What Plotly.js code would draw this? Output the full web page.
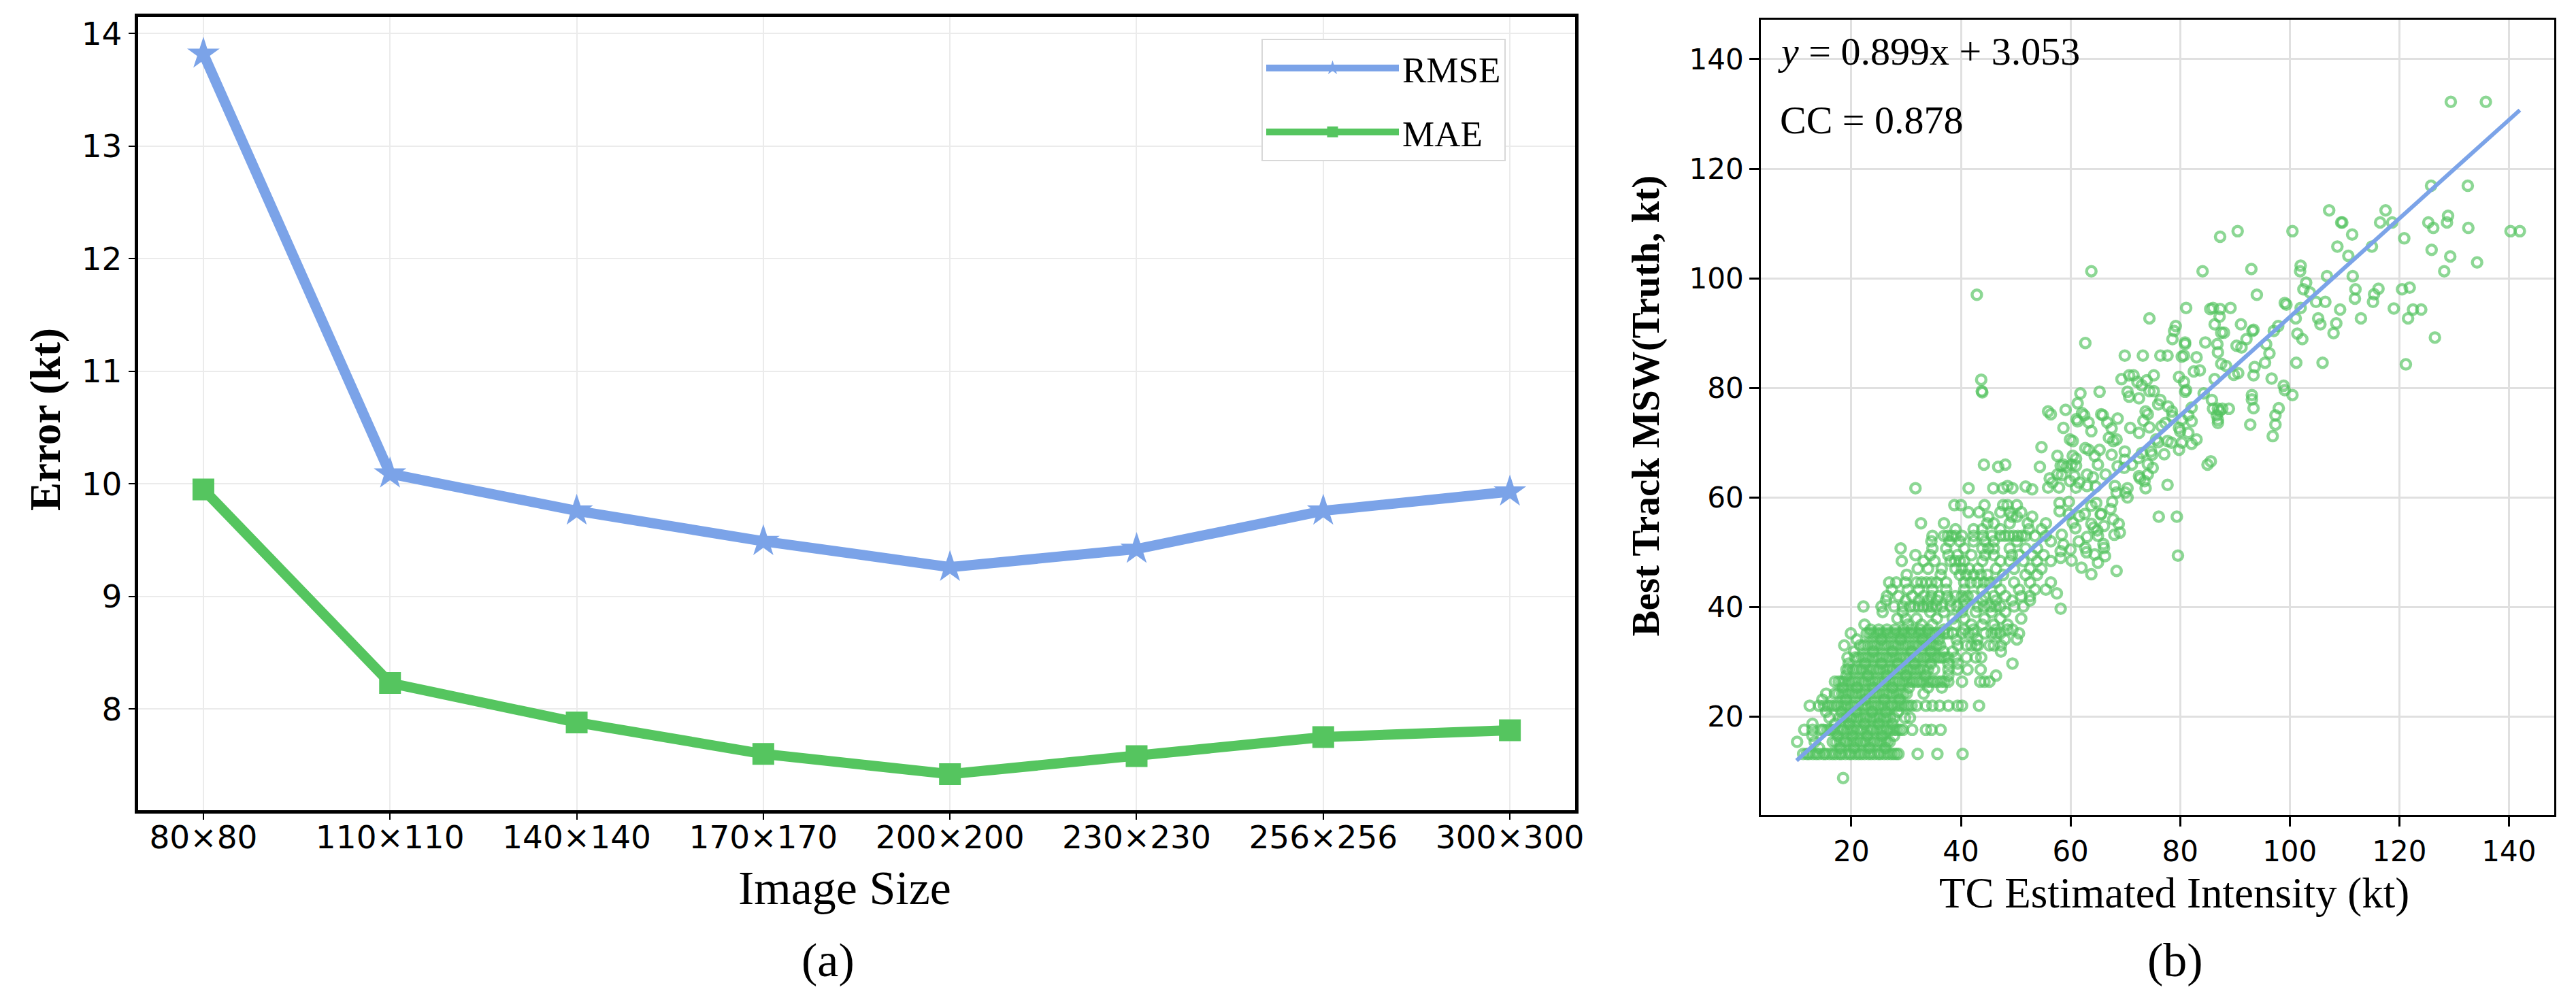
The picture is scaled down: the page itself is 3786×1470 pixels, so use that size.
<!DOCTYPE html>
<html>
<head>
<meta charset="utf-8">
<script src="https://cdn.plot.ly/plotly-3.0.1.min.js"></script>
<style>
  body { margin: 0; background: white; }
  #chart { width: 3786px; height: 1470px; }
</style>
</head>
<body>
<div id="chart"></div>
<script>
// (a) error vs. image size
const imageSizes = ['80×80', '110×110', '140×140', '170×170', '200×200', '230×230', '256×256', '300×300'];
const rmse = [13.82, 10.09, 9.76, 9.49, 9.26, 9.42, 9.76, 9.93];
const mae = [9.95, 8.23, 7.88, 7.60, 7.42, 7.58, 7.75, 7.81];

// (b) estimated vs. best track intensity
// dense part: best-track level (kt) and the estimates read along that level
const rowLevels = [8.8, 13.2, 14.3, 15.4, 16.5, 17.6, 18.7, 19.8, 20.9, 22.0, 23.1, 24.2, 25.3, 26.4, 27.5,
    28.6, 29.7, 30.8, 31.9, 33.0, 34.1, 35.2, 35.9, 36.8, 37.9, 39.1, 40.1, 41.2, 42.0, 43.2, 44.5,
    45.9, 47.0, 48.4, 49.5, 50.7, 52.0, 53.0, 54.2, 55.3, 56.5, 57.3, 58.6];
const rowEstimates = [
    [18.5],
    [11.2, 11.9, 12.3, 13.0, 13.6, 14.1, 14.9, 15.3, 16.0, 16.6, 17.1, 17.8, 18.2, 18.9, 19.6, 20.0, 20.7, 21.3, 21.8, 22.4, 23.1, 23.6, 24.2, 24.9, 25.3, 26.0, 26.6, 27.2, 27.7, 28.2, 28.6, 32.1, 35.7, 40.3],
    [14.1, 18.0, 20.5, 23.3, 26.2],
    [10.1, 13.3, 16.6, 17.2, 17.9, 18.6, 19.1, 19.8, 20.4, 21.0, 21.7, 22.3, 22.8, 23.5, 24.1, 24.8, 25.4, 26.0, 26.5, 27.0],
    [12.9, 17.5, 20.2, 22.9, 25.6, 27.8],
    [11.4, 12.9, 14.5, 14.9, 15.6, 16.2, 16.8, 17.5, 18.1, 18.6, 19.3, 19.9, 20.4, 21.1, 21.7, 22.2, 22.9, 23.5, 24.0, 24.7, 25.3, 25.8, 26.5, 27.1, 27.7, 28.3, 28.9, 29.4, 31.1, 33.6, 34.6, 36.3],
    [12.9, 17.0, 19.6, 22.4, 25.0, 27.5],
    [16.0, 17.8, 18.5, 19.1, 19.8, 20.3, 21.0, 21.6, 22.3, 22.8, 23.5, 24.1, 24.7, 25.2, 25.9, 26.5, 27.1, 27.8, 29.8, 30.7],
    [15.4, 18.2, 20.9, 23.8, 26.3, 28.5],
    [12.4, 14.1, 15.0, 15.7, 16.3, 17.0, 17.5, 18.2, 18.8, 19.3, 20.0, 20.6, 21.2, 21.9, 22.5, 23.0, 23.7, 24.3, 24.9, 25.5, 26.0, 26.7, 27.3, 27.9, 28.5, 29.1, 29.8, 30.4, 31.0, 31.9, 33.6, 34.8, 36.1, 37.7, 39.4, 40.2, 43.3],
    [14.7, 19.0, 22.5, 26.0, 28.8],
    [15.4, 17.0, 17.6, 18.3, 18.9, 19.5, 20.2, 20.8, 21.4, 22.0, 22.6, 23.3, 23.9, 24.5, 25.1, 25.8, 26.4, 27.0, 27.6, 28.3, 28.9, 29.5, 30.1, 33.2],
    [18.5, 21.0, 24.0, 27.5, 30.5, 34.0, 36.5],
    [17.0, 17.7, 18.3, 18.8, 19.5, 20.1, 20.7, 21.3, 22.0, 22.5, 23.2, 23.8, 24.4, 25.0, 25.7, 26.2, 26.9, 27.5, 28.1, 28.7, 29.4, 30.0, 30.6, 31.2, 31.9, 32.5, 33.1, 33.8, 34.4, 35.0, 35.7, 36.4, 37.0, 37.7, 40.2, 43.5, 44.3, 45.2],
    [19.1, 23.0, 26.5, 30.0, 33.5, 37.7, 46.4],
    [19.1, 19.5, 20.3, 20.9, 21.6, 22.1, 22.8, 23.4, 24.0, 24.7, 25.2, 25.9, 26.5, 27.1, 27.6, 28.3, 28.9, 29.5, 30.2, 30.8, 31.4, 32.0, 32.6, 33.2, 34.0, 35.1, 37.7, 39.4, 41.2, 43.6],
    [19.5, 22.5, 25.5, 28.5, 31.5, 34.5, 37.7, 39.4, 49.4],
    [19.3, 20.7, 21.3, 22.0, 22.6, 23.2, 23.9, 24.5, 25.1, 25.7, 26.4, 27.0, 27.6, 28.2, 28.9, 29.5, 30.1, 30.7, 31.4, 32.0, 32.6, 33.3, 33.9, 34.5, 35.1, 35.8, 36.4, 37.0, 37.7, 39.0, 41.0, 42.7, 43.7],
    [20.5, 24.0, 27.5, 31.0, 34.5, 36.8, 38.5, 47.3],
    [18.7, 21.6, 22.3, 22.9, 23.6, 24.2, 24.8, 25.5, 26.1, 26.7, 27.4, 28.0, 28.6, 29.3, 29.9, 30.5, 31.2, 31.8, 32.4, 33.1, 33.7, 34.3, 35.0, 35.6, 36.2, 39.4, 41.0, 41.9, 42.8, 43.1, 45.2, 46.0, 47.3],
    [21.0, 25.5, 29.0, 33.0, 36.0, 39.2, 43.0, 48.0, 50.2],
    [19.9, 22.8, 23.4, 24.0, 24.7, 25.3, 25.9, 26.6, 27.2, 27.8, 28.5, 29.1, 29.7, 30.4, 31.0, 31.6, 32.3, 32.9, 33.5, 34.2, 34.8, 35.4, 36.1, 36.9, 37.6, 38.5, 40.2, 41.4, 42.3, 44.4, 45.6, 46.4, 47.2, 50.6],
    [23.5, 25.0, 26.5, 28.0, 29.5, 31.0, 32.5, 34.0, 36.9, 40.6, 42.3, 46.4, 48.5, 49.4],
    [22.4, 30.3, 32.8, 34.8, 38.9, 41.9, 43.9, 46.0, 48.5],
    [28.4, 29.9, 31.9, 35.6, 38.5, 40.6, 44.3, 47.2, 51.0],
    [25.7, 29.4, 34.4, 36.9, 40.2, 42.7, 45.6, 48.1],
    [22.2, 25.5, 27.8, 29.4, 30.7, 31.5, 32.3, 33.1, 33.9, 34.7, 35.5, 36.5, 38.1, 39.3, 40.5, 43.1, 44.2, 45.3, 46.3, 47.2, 49.7, 51.4],
    [26.3, 29.9, 32.3, 34.0, 35.6, 38.1, 40.6, 43.9, 46.4, 49.3, 52.6],
    [26.5, 28.6, 31.1, 33.2, 34.6, 36.0, 37.5, 39.0, 40.2, 41.2, 42.3, 44.4, 46.0, 48.1, 51.0, 52.6],
    [27.4, 30.3, 32.3, 34.8, 37.3, 40.6, 43.9, 47.2, 50.6, 53.5, 55.5],
    [26.9, 28.2, 29.9, 31.9, 32.8, 33.7, 34.6, 35.6, 37.3, 40.6, 41.8, 43.0, 44.2, 45.3, 46.4, 49.7, 52.6, 56.4],
    [30.1, 36.3, 39.8, 41.0, 42.3, 43.6, 44.8, 47.7, 51.8, 53.9],
    [32.1, 34.0, 36.5, 39.0, 40.2, 41.5, 43.1, 46.4, 49.7, 52.6, 54.7],
    [29.2, 33.2, 35.2, 38.1, 38.9, 39.8, 40.6, 43.9, 47.2, 48.9, 51.4, 53.9, 56.4],
    [31.7, 34.4, 37.7, 39.4, 41.9, 44.4, 46.0, 49.3, 50.6, 53.0, 55.1],
    [29.0, 34.8, 37.3, 40.6, 43.9, 45.0, 46.0, 48.9, 51.8, 53.9],
    [34.6, 37.9, 39.8, 42.3, 44.4, 46.0, 50.2, 56.4],
    [34.8, 36.9, 37.6, 38.3, 39.0, 40.2, 42.3, 44.0, 45.6, 47.2, 48.0, 48.8, 49.6, 50.4, 51.1, 51.8, 53.5, 55.5],
    [39.0, 42.3, 43.9, 47.2, 52.4, 54.7],
    [32.7, 36.9, 44.8, 46.0, 48.9, 52.2, 55.5],
    [45.0, 49.3, 50.2, 53.0],
    [41.4, 43.3, 47.2, 48.9, 51.0],
    [38.8, 40.0, 44.3, 47.7, 48.5, 50.2]
];
// sparse part: [estimate, best track]
const spreadPoints = [
    [129.4, 132.2], [135.8, 132.2], [125.8, 116.9], [132.5, 116.9], [107.2, 112.4], [117.5, 112.4],
    [109.4, 110.2], [109.6, 110.2], [116.5, 110.2], [118.7, 110.2], [125.3, 110.2], [128.9, 111.4],
    [128.7, 110.2], [126.2, 109.2], [132.6, 109.2], [140.3, 108.6], [142.0, 108.6], [90.5, 108.6],
    [87.3, 107.6], [100.5, 108.6], [111.4, 108.0], [120.9, 107.3], [108.7, 105.8], [115.0, 105.8],
    [110.7, 104.1], [125.9, 105.2], [129.3, 104.0], [134.2, 102.9], [128.2, 101.3], [63.8, 101.3],
    [84.1, 101.3], [93.0, 101.7], [102.0, 102.3], [101.9, 101.3], [106.8, 100.4], [111.5, 100.4],
    [42.9, 97.0], [103.0, 99.2], [102.5, 98.0], [112.0, 98.0], [116.2, 98.1], [120.5, 98.0],
    [121.9, 98.3], [94.0, 97.0], [103.7, 97.4], [111.9, 96.3], [115.4, 97.1], [99.1, 95.5],
    [99.4, 95.2], [104.8, 95.7], [106.5, 95.7], [102.0, 94.6], [81.1, 94.6], [85.5, 94.4],
    [86.0, 94.6], [87.3, 94.4], [89.2, 94.6], [109.2, 94.3], [115.2, 95.7], [119.0, 94.5],
    [122.5, 94.3], [124.0, 94.3], [74.4, 92.7], [87.2, 93.0], [101.1, 92.7], [105.2, 92.7],
    [113.0, 92.7], [121.6, 92.7], [91.1, 91.6], [97.9, 91.3], [105.6, 91.6], [108.5, 91.8],
    [93.2, 90.4], [93.4, 90.6], [79.2, 91.3], [78.9, 90.4], [86.3, 91.6], [87.5, 90.1],
    [88.0, 90.1], [97.1, 90.4], [101.4, 89.9], [108.0, 90.0], [126.5, 89.2], [92.1, 88.9],
    [102.3, 88.9], [78.6, 88.9], [84.6, 88.3], [80.9, 88.3], [80.9, 88.0], [62.7, 88.2],
    [86.8, 88.0], [95.7, 88.0], [90.3, 87.7], [91.2, 87.4], [96.3, 86.3], [86.9, 86.5],
    [69.9, 85.9], [73.2, 85.9], [76.4, 85.9], [77.7, 85.9], [80.3, 85.7], [80.7, 85.9],
    [83.0, 85.6], [101.2, 84.6], [106.0, 84.6], [121.2, 84.3], [95.5, 84.6], [93.6, 83.8],
    [87.5, 84.4], [88.4, 84.0], [82.5, 83.0], [83.6, 83.2], [90.6, 82.7], [89.8, 82.4],
    [75.2, 82.3], [70.7, 82.3], [71.5, 82.3], [69.3, 81.6], [73.9, 81.4], [79.8, 82.0],
    [72.2, 81.1], [73.0, 80.5], [93.4, 82.3], [86.3, 81.6], [80.7, 81.1], [96.7, 81.7],
    [98.9, 80.4], [99.1, 79.6], [100.5, 78.7], [43.7, 81.5], [43.8, 79.4], [43.9, 79.2],
    [61.8, 79.0], [65.3, 79.3], [70.4, 79.3], [74.4, 79.4], [75.2, 79.4], [80.9, 79.3],
    [81.1, 79.6], [84.3, 79.0], [70.7, 78.4], [72.5, 78.1], [76.4, 77.8], [93.1, 78.7],
    [93.1, 77.9], [85.8, 77.8], [61.3, 77.2], [76.0, 77.0], [77.8, 76.6], [82.1, 76.4],
    [86.0, 76.2], [86.9, 76.2], [87.7, 76.2], [88.9, 76.2], [93.4, 76.3], [98.0, 76.3],
    [55.9, 75.7], [56.4, 75.2], [59.1, 76.0], [62.1, 75.4], [62.5, 75.0], [65.6, 75.2],
    [65.9, 75.0], [73.7, 75.7], [74.1, 75.2], [78.5, 75.7], [78.6, 74.8], [81.5, 75.0],
    [86.7, 75.0], [87.2, 75.8], [97.4, 75.0], [61.1, 74.3], [61.3, 73.9], [68.6, 74.4],
    [73.3, 74.0], [82.1, 73.9], [80.3, 74.2], [86.9, 73.6], [86.9, 74.2], [63.3, 73.7],
    [66.7, 73.7], [97.4, 73.3], [77.3, 73.6], [76.6, 73.0], [92.8, 73.3], [58.7, 72.7],
    [67.5, 72.6], [70.9, 72.7], [74.4, 72.8], [79.8, 72.7], [80.0, 72.1], [63.8, 72.1],
    [72.5, 71.8], [81.5, 71.8], [67.0, 70.9], [68.4, 70.6], [67.8, 70.3], [59.9, 70.6],
    [60.4, 70.3], [75.6, 70.6], [76.0, 70.1], [96.9, 71.2], [83.0, 70.6], [77.7, 70.3],
    [78.4, 70.0], [80.3, 70.0], [82.1, 69.8], [54.7, 69.2], [62.7, 69.0], [63.3, 68.7],
    [65.3, 68.7], [69.9, 68.4], [73.0, 68.1], [74.7, 68.4], [74.9, 67.8], [77.1, 67.9],
    [79.8, 68.7], [57.6, 67.6], [60.4, 67.6], [61.0, 67.1], [64.4, 67.6], [67.5, 67.8],
    [69.9, 66.9], [72.4, 67.2], [54.4, 65.6], [44.2, 66.0], [46.8, 65.6], [48.1, 66.0],
    [58.2, 65.8], [58.7, 66.0], [59.3, 65.6], [60.2, 66.0], [61.0, 65.8], [65.0, 66.0],
    [68.6, 65.7], [69.8, 65.4], [71.2, 66.0], [74.1, 66.1], [75.0, 65.4], [85.0, 66.0],
    [85.6, 66.6], [57.6, 64.2], [58.4, 64.1], [60.7, 63.9], [63.0, 64.2], [64.1, 63.7],
    [66.4, 64.2], [72.5, 63.9], [72.7, 63.5], [73.5, 63.0], [74.1, 64.2], [56.2, 63.5],
    [56.7, 62.7], [59.9, 63.0], [61.6, 62.7], [63.0, 62.1], [64.6, 62.0], [31.7, 61.7],
    [41.4, 61.7], [45.9, 61.7], [47.7, 61.7], [48.5, 62.1], [49.4, 61.7], [51.8, 62.0],
    [53.0, 61.5], [55.9, 61.8], [57.9, 61.8], [61.0, 61.8], [68.1, 62.1], [70.4, 61.7],
    [73.7, 61.7], [77.7, 62.3], [68.4, 60.9], [70.0, 60.9], [70.4, 60.0], [58.0, 59.0],
    [59.7, 59.2], [64.7, 59.0], [67.6, 59.2], [58.0, 57.5], [59.7, 57.0], [62.6, 57.0],
    [65.5, 56.9], [68.8, 55.2], [63.8, 55.2], [64.9, 54.0], [66.1, 54.8], [68.0, 53.2],
    [60.9, 54.4], [63.0, 52.8], [58.4, 53.2], [76.1, 56.5], [79.4, 56.5], [62.9, 50.0],
    [63.8, 46.0], [65.0, 48.1], [68.4, 46.6], [79.6, 49.4], [57.5, 42.5], [60.0, 50.5],
    [61.5, 52.0], [66.0, 51.5], [60.2, 48.5], [62.0, 47.2], [60.4, 55.4], [61.6, 56.6],
    [63.8, 58.5], [65.6, 57.0], [67.3, 57.9], [67.8, 56.0], [69.0, 53.6], [65.0, 53.0],
    [64.2, 54.5], [62.7, 50.8], [64.4, 49.6], [66.1, 50.8], [66.3, 49.3], [58.7, 51.4],
    [58.2, 50.2], [58.2, 49.0], [58.2, 39.7]
];
// fitted line end points, y = 0.899x + 3.053
const fitEst = [10.0, 142.0];
const fitTruth = [12.0, 130.7];

const blue = '#7BA3E8';
const green = '#55C55F';
const serif = 'Liberation Serif, Times New Roman, serif';
const sans = 'DejaVu Sans, sans-serif';

const estX = [];
const truthY = [];
rowLevels.forEach((level, i) => {
    rowEstimates[i].forEach(v => { estX.push(v); truthY.push(level); });
});
spreadPoints.forEach(p => { estX.push(p[0]); truthY.push(p[1]); });

const traces = [
    {
        x: imageSizes.map((_, i) => i), y: rmse, name: 'RMSE',
        type: 'scatter', mode: 'lines+markers', legendgroup: 'a',
        line: { color: blue, width: 15 },
        marker: { symbol: 'star', size: 36, color: blue }
    },
    {
        x: imageSizes.map((_, i) => i), y: mae, name: 'MAE',
        type: 'scatter', mode: 'lines+markers', legendgroup: 'b',
        line: { color: green, width: 15 },
        marker: { symbol: 'square', size: 32, color: green }
    },
    {
        x: estX, y: truthY, xaxis: 'x2', yaxis: 'y2',
        type: 'scatter', mode: 'markers', showlegend: false,
        marker: { symbol: 'circle-open', size: 14, color: 'rgba(80,194,92,0.66)', line: { width: 4.5 } }
    },
    {
        x: fitEst, y: fitTruth, xaxis: 'x2', yaxis: 'y2',
        type: 'scatter', mode: 'lines', showlegend: false,
        line: { color: blue, width: 6 }
    }
];

const tickFontA = { family: sans, size: 47, color: 'black' };
const tickFontB = { family: sans, size: 42, color: 'black' };

const layout = {
    width: 3786, height: 1470,
    margin: { l: 0, r: 0, t: 0, b: 0 },
    paper_bgcolor: 'white', plot_bgcolor: 'white',
    hovermode: false,
    showlegend: true,
    legend: {
        x: 0.4897, y: 0.9612, xanchor: 'left', yanchor: 'top',
        bgcolor: 'white', bordercolor: '#d8d8d8', borderwidth: 2,
        font: { family: serif, size: 53, color: 'black' },
        itemwidth: 195, tracegroupgap: 22
    },
    xaxis: {
        domain: [0.0536, 0.6115], range: [-0.35, 7.35],
        tickvals: imageSizes.map((_, i) => i), ticktext: imageSizes,
        showline: true, linewidth: 5, linecolor: 'black', mirror: true,
        ticks: 'outside', ticklen: 9, tickwidth: 2, tickcolor: 'black',
        ticklabelstandoff: -14,
        showgrid: true, gridcolor: '#ebebeb', gridwidth: 2, zeroline: false,
        tickfont: tickFontA
    },
    yaxis: {
        domain: [0.1898, 0.9827], range: [7.1, 14.145], dtick: 1,
        showline: true, linewidth: 5, linecolor: 'black', mirror: true,
        ticks: 'outside', ticklen: 9, tickwidth: 2, tickcolor: 'black',
        showgrid: true, gridcolor: '#ebebeb', gridwidth: 2, zeroline: false,
        tickfont: tickFontA
    },
    xaxis2: {
        domain: [0.6836, 0.9916], range: [3.5, 148.3], anchor: 'y2',
        tickvals: [20, 40, 60, 80, 100, 120, 140],
        showline: true, linewidth: 3, linecolor: 'black', mirror: true,
        ticks: 'outside', ticklen: 14, tickwidth: 3, tickcolor: 'black',
        showgrid: true, gridcolor: '#e0e0e0', gridwidth: 3, zeroline: false,
        tickfont: tickFontB
    },
    yaxis2: {
        domain: [0.1847, 0.9803], range: [2, 147.2], anchor: 'x2',
        tickvals: [20, 40, 60, 80, 100, 120, 140],
        showline: true, linewidth: 3, linecolor: 'black', mirror: true,
        ticks: 'outside', ticklen: 14, tickwidth: 3, tickcolor: 'black',
        showgrid: true, gridcolor: '#e0e0e0', gridwidth: 3, zeroline: false,
        tickfont: tickFontB
    },
    annotations: [
        { text: 'Error (kt)', x: 0.0177, y: 0.5803, textangle: -90,
          font: { family: serif, size: 63, weight: 'bold', color: 'black' } },
        { text: 'Image Size', x: 0.3278, y: 0.1117,
          font: { family: serif, size: 70, color: 'black' } },
        { text: '(a)', x: 0.3214, y: 0.0395,
          font: { family: serif, size: 70, color: 'black' } },
        { text: 'Best Track MSW(Truth, kt)', x: 0.6389, y: 0.5942, textangle: -90,
          font: { family: serif, size: 57, weight: 'bold', color: 'black' } },
        { text: 'TC Estimated Intensity (kt)', x: 0.8439, y: 0.1065,
          font: { family: serif, size: 63, color: 'black' } },
        { text: '(b)', x: 0.8444, y: 0.0395,
          font: { family: serif, size: 70, color: 'black' } },
        { text: '<i>y</i> = 0.899x + 3.053', x: 0.6896, y: 0.9483, xanchor: 'left',
          font: { family: serif, size: 58, color: 'black' } },
        { text: 'CC = 0.878', x: 0.6904, y: 0.8796, xanchor: 'left',
          font: { family: serif, size: 58, color: 'black' } }
    ].map(a => Object.assign({ xref: 'paper', yref: 'paper', showarrow: false, xanchor: 'center', yanchor: 'middle' }, a))
};

Plotly.newPlot('chart', traces, layout, { displayModeBar: false, responsive: false });
</script>
</body>
</html>
